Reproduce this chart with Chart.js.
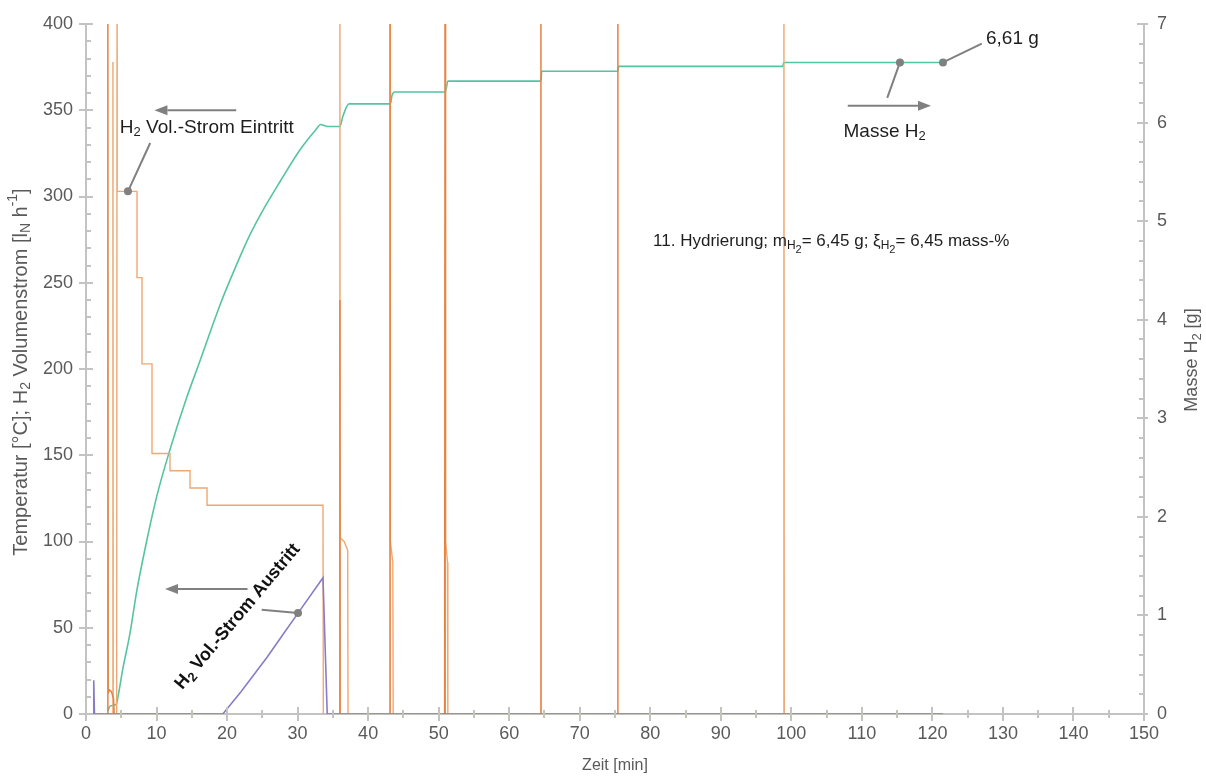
<!DOCTYPE html>
<html>
<head>
<meta charset="utf-8">
<script src="https://cdn.jsdelivr.net/npm/chart.js@4.4.1/dist/chart.umd.min.js"></script>
<style>
  html, body { margin: 0; padding: 0; background: #fff; }
  #wrap { width: 1206px; height: 779px; }
</style>
</head>
<body>
<div id="wrap"><canvas id="chart" width="1206" height="779"></canvas></div>
<script>
// time in min, flows in l_N/h (left axis), mass in g (right axis); null = gap
const inletTime = [3.78, 3.82, 3.86, null,
  4.35, 4.4, 4.42, 7.23, 7.23, 7.94, 7.94, 9.36, 9.36, 11.91, 11.91, 14.75, 14.75, 17.16, 17.16, 33.6, 33.65, null,
  35.95, 36.0, 36.03, 36.6, 37.1, 37.15, null,
  43.15, 43.15, 43.5, 43.55, null,
  51.0, 51.0, 51.25, 51.3, null,
  98.9, 98.95, 99.0];
const inletFlow = [0, 378, 0, null,
  0, 400, 303, 303, 253, 253, 203, 203, 151, 151, 141, 141, 131, 131, 121, 121, 0, null,
  0, 400, 102, 100, 95, 0, null,
  400, 100, 88, 0, null,
  400, 100, 88, 0, null,
  0, 400, 0];

const pulseTime = [3.05, 3.1, 3.15, 3.3, 3.6, 3.9, 4.0, null,
  35.98, 36.0, 36.02, null,
  43.05, 43.1, 43.12, null,
  50.85, 50.9, 50.92, null,
  64.45, 64.5, 64.52, null,
  75.35, 75.4, 75.42];
const pulseFlow = [0, 400, 12, 14, 13, 9, 0, null,
  0, 240, 0, null,
  0, 400, 0, null,
  0, 400, 0, null,
  0, 400, 0, null,
  0, 400, 0];

const outletTime = [0, 1.0, 1.1, 1.2, 19.4, 22, 25.7, 28, 30.06, 33.6, 34.2, 121.5];
const outletFlow = [0, 0, 19.5, 0, 0, 13, 33, 46.5, 58.5, 79, 0, 0];

const massTime = [3.1, 3.4, 4.3, 4.6, 5.2, 6.24, 7.2, 8.65, 10.0, 11.77, 14.18, 16.0, 19.0, 21.0, 23.3, 25.0,
  27.5, 30.3, 32.5, 33.3, 33.8, 34.3, 36.0, 36.4, 37.3, 43.15, 43.4, 43.8, 50.95, 51.3, 64.5, 64.6,
  75.4, 75.5, 98.8, 98.9, 121.5];
const massH2 = [0.03, 0.08, 0.1, 0.2, 0.45, 0.82, 1.25, 1.77, 2.2, 2.65, 3.19, 3.55, 4.15, 4.5, 4.87, 5.1,
  5.4, 5.72, 5.92, 5.98, 5.97, 5.96, 5.96, 6.06, 6.19, 6.19, 6.28, 6.31, 6.31, 6.42, 6.42, 6.52,
  6.52, 6.57, 6.57, 6.61, 6.61];

const xTicks = { min: 0, max: 150, step: 10 };
const yTicks = { min: 0, max: 400, step: 50 };
const y2Ticks = { min: 0, max: 7, step: 1 };

const AXIS = "#C3C3C3";
const TICKTXT = "#5A5A5A";
const FONT = "'Liberation Sans', Arial, sans-serif";

function pts(xs, ys) {
  return xs.map((x, i) => ({ x: x, y: ys[i] }));
}

// text with sub/superscripts: parts = [[text, level]], level 1 sub, 2 sub-sub, -1 sup
function partFont(size, lvl, weight) {
  const f = lvl === 0 ? 1 : (lvl === 2 ? 0.62 : 0.72);
  return `${weight || ""} ${Math.round(size * f)}px ${FONT}`;
}
function partShift(size, lvl) {
  if (lvl === 1) return size * 0.28;
  if (lvl === 2) return size * 0.48;
  if (lvl === -1) return -size * 0.38;
  return 0;
}
function richWidth(ctx, parts, size, weight) {
  let w = 0;
  for (const [t, l] of parts) { ctx.font = partFont(size, l, weight); w += ctx.measureText(t).width; }
  return w;
}
function drawRich(ctx, parts, x, y, size, o = {}) {
  ctx.save();
  ctx.translate(x, y);
  if (o.angle) ctx.rotate(o.angle);
  ctx.fillStyle = o.color || "#1e1e1e";
  ctx.textBaseline = "middle";
  ctx.textAlign = "left";
  const w = richWidth(ctx, parts, size, o.weight);
  let cx = o.align === "center" ? -w / 2 : 0;
  for (const [t, l] of parts) {
    ctx.font = partFont(size, l, o.weight);
    ctx.fillText(t, cx, partShift(size, l));
    cx += ctx.measureText(t).width;
  }
  ctx.restore();
}

function arrow(ctx, x1, y1, x2, y2) {
  const a = Math.atan2(y2 - y1, x2 - x1);
  const hl = 13, hw = 5;
  ctx.beginPath();
  ctx.moveTo(x1, y1);
  ctx.lineTo(x2 - hl * Math.cos(a), y2 - hl * Math.sin(a));
  ctx.stroke();
  ctx.beginPath();
  ctx.moveTo(x2, y2);
  ctx.lineTo(x2 - hl * Math.cos(a) + hw * Math.sin(a), y2 - hl * Math.sin(a) - hw * Math.cos(a));
  ctx.lineTo(x2 - hl * Math.cos(a) - hw * Math.sin(a), y2 - hl * Math.sin(a) + hw * Math.cos(a));
  ctx.closePath();
  ctx.fill();
}
function dot(ctx, x, y) {
  ctx.beginPath();
  ctx.arc(x, y, 4, 0, Math.PI * 2);
  ctx.fill();
}
function leader(ctx, x1, y1, x2, y2) {
  ctx.beginPath();
  ctx.moveTo(x1, y1);
  ctx.lineTo(x2, y2);
  ctx.stroke();
}

const decorPlugin = {
  id: "decor",
  afterDraw(chart) {
    const { ctx, chartArea: a, scales } = chart;
    const x = scales.x, y = scales.y, y2 = scales.y2;
    ctx.save();

    // inner tick halves and minor ticks
    ctx.strokeStyle = AXIS;
    ctx.lineWidth = 2;
    ctx.beginPath();
    for (let v = 0; v <= 400; v += 10) {
      const p = Math.round(y.getPixelForValue(v));
      const len = v % 50 === 0 ? 7 : 5;
      ctx.moveTo(a.left, p); ctx.lineTo(a.left + len, p);
    }
    for (let k = 0; k <= 35; k++) {
      const p = Math.round(y2.getPixelForValue(k * 0.2));
      const len = k % 5 === 0 ? 7 : 5;
      ctx.moveTo(a.right, p); ctx.lineTo(a.right - len, p);
    }
    for (let v = 0; v <= 150; v += 5) {
      const p = Math.round(x.getPixelForValue(v));
      const len = v % 10 === 0 ? 7 : 4;
      ctx.moveTo(p, a.bottom); ctx.lineTo(p, a.bottom - len);
      if (v % 10 !== 0) { ctx.moveTo(p, a.bottom); ctx.lineTo(p, a.bottom + 4); }
    }
    ctx.stroke();

    // axis titles
    drawRich(ctx, [["Temperatur [°C]; H", 0], ["2", 1], [" Volumenstrom [l", 0], ["N", 1], [" h", 0], ["-1", -1], ["]", 0]],
      21, 372, 20, { angle: -Math.PI / 2, align: "center", color: TICKTXT });
    drawRich(ctx, [["Masse H", 0], ["2", 1], [" [g]", 0]],
      1192, 360, 18, { angle: -Math.PI / 2, align: "center", color: TICKTXT });
    drawRich(ctx, [["Zeit [min]", 0]], (a.left + a.right) / 2, 766, 16, { align: "center", color: TICKTXT });

    // annotations
    ctx.strokeStyle = "#808080";
    ctx.fillStyle = "#808080";
    ctx.lineWidth = 2;
    const X = v => x.getPixelForValue(v), Y = v => y.getPixelForValue(v), G = v => y2.getPixelForValue(v);

    // inlet
    arrow(ctx, X(21.3), Y(350), X(9.7), Y(350));
    leader(ctx, X(9.1), Y(331), X(5.95), Y(303));
    dot(ctx, X(5.95), Y(303));
    drawRich(ctx, [["H", 0], ["2", 1], [" Vol.-Strom Eintritt", 0]], X(4.8), Y(340), 18.5);

    // outlet
    arrow(ctx, X(22.9), Y(72.5), X(11.2), Y(72.5));
    leader(ctx, X(24.9), Y(60.5), X(30.06), Y(58.5));
    dot(ctx, X(30.06), Y(58.5));
    drawRich(ctx, [["H", 0], ["2", 1], [" Vol.-Strom Austritt", 0]], X(21.5), Y(56.5), 18,
      { angle: -50 * Math.PI / 180, align: "center", weight: "bold", color: "#111" });

    // mass
    arrow(ctx, X(108), G(6.17), X(119.8), G(6.17));
    leader(ctx, X(113.6), G(6.25), X(115.4), G(6.61));
    dot(ctx, X(115.4), G(6.61));
    leader(ctx, X(121.5), G(6.61), X(127.0), G(6.8));
    dot(ctx, X(121.5), G(6.61));
    drawRich(ctx, [["Masse H", 0], ["2", 1]], X(107.4), G(5.91), 18.5);
    drawRich(ctx, [["6,61 g", 0]], X(127.6), G(6.85), 18.5);

    drawRich(ctx, [["11. Hydrierung; m", 0], ["H", 1], ["2", 2], ["= 6,45 g; ξ", 0], ["H", 1], ["2", 2], ["= 6,45 mass-%", 0]],
      X(80.4), Y(274), 17.2);

    ctx.restore();
  }
};

const lineOpts = { showLine: true, pointRadius: 0, spanGaps: false, tension: 0 };
const tickFont = { family: FONT, size: 18 };

new Chart(document.getElementById("chart"), {
  type: "scatter",
  data: {
    datasets: [
      { ...lineOpts, label: "H2 Vol.-Strom Austritt", data: pts(outletTime, outletFlow), yAxisID: "y",
        borderColor: "#8B7BC6", borderWidth: 1.6, order: 0 },
      { ...lineOpts, label: "Pulse", data: pts(pulseTime, pulseFlow), yAxisID: "y",
        borderColor: "#E6823F", borderWidth: 1.5, order: 1 },
      { ...lineOpts, label: "H2 Vol.-Strom Eintritt", data: pts(inletTime, inletFlow), yAxisID: "y",
        borderColor: "#EEA872", borderWidth: 1.4, order: 2 },
      { ...lineOpts, label: "Masse H2", data: pts(massTime, massH2), yAxisID: "y2",
        borderColor: "#55C4A2", borderWidth: 1.6, cubicInterpolationMode: "monotone", order: 3 }
    ]
  },
  options: {
    responsive: false,
    animation: false,
    devicePixelRatio: 1,
    layout: { padding: { top: 24, left: 0, right: 0, bottom: 0 } },
    plugins: { legend: { display: false }, tooltip: { enabled: false } },
    scales: {
      x: {
        type: "linear", min: xTicks.min, max: xTicks.max,
        ticks: { stepSize: xTicks.step, color: TICKTXT, font: tickFont, padding: 2 },
        grid: { drawOnChartArea: false, color: AXIS, lineWidth: 2, tickLength: 7 },
        border: { color: AXIS, width: 2 },
        afterFit(s) { s.height = 65; }
      },
      y: {
        position: "left", min: yTicks.min, max: yTicks.max,
        ticks: { stepSize: yTicks.step, color: TICKTXT, font: tickFont, padding: 6 },
        grid: { drawOnChartArea: false, color: AXIS, lineWidth: 2, tickLength: 7 },
        border: { color: AXIS, width: 2 },
        afterFit(s) { s.width = 86; }
      },
      y2: {
        position: "right", min: y2Ticks.min, max: y2Ticks.max,
        ticks: { stepSize: y2Ticks.step, color: TICKTXT, font: tickFont, padding: 9 },
        grid: { drawOnChartArea: false, color: AXIS, lineWidth: 2, tickLength: 4 },
        border: { color: AXIS, width: 2 },
        afterFit(s) { s.width = 62; }
      }
    }
  },
  plugins: [decorPlugin]
});
</script>
</body>
</html>
